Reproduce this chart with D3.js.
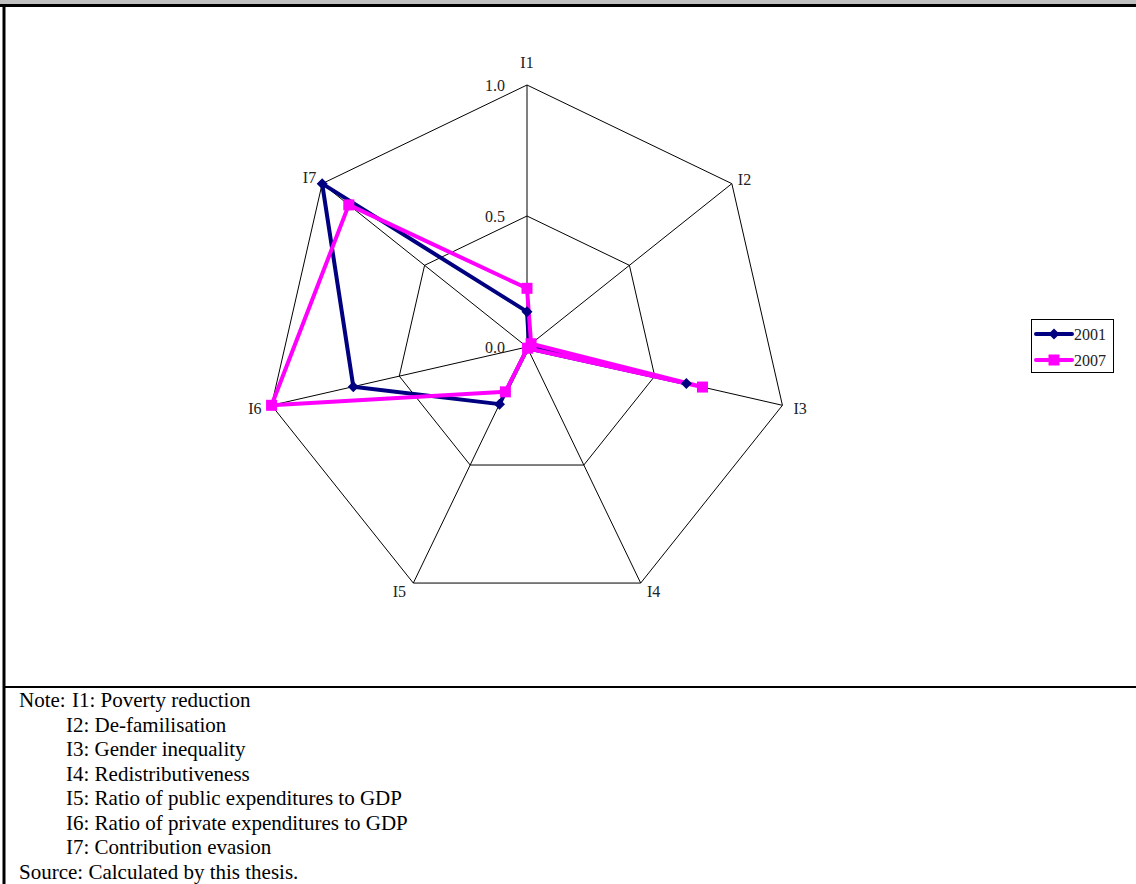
<!DOCTYPE html>
<html>
<head>
<meta charset="utf-8">
<script src="https://cdn.jsdelivr.net/npm/d3@7"></script>
<style>
  html, body { margin: 0; padding: 0; background: #fff; }
  svg { display: block; font-family: "Liberation Serif", "Times New Roman", serif; }
</style>
</head>
<body>
<svg id="chart" width="1136" height="884"></svg>
<script>
// Indicator axes, clockwise from the top
const axes = ["I1", "I2", "I3", "I4", "I5", "I6", "I7"];
const seriesNames = ["2001", "2007"];
const values2001 = [0.135, 0.01, 0.624, 0.005, 0.242, 0.68, 1.0];
const values2007 = [0.224, 0.02, 0.687, 0.005, 0.19, 1.0, 0.87];
const ringTicks = [0, 0.5, 1.0];
const tickLabels = ["0.0", "0.5", "1.0"];
const noteLines = [
  "I1: Poverty reduction",
  "I2: De-familisation",
  "I3: Gender inequality",
  "I4: Redistributiveness",
  "I5: Ratio of public expenditures to GDP",
  "I6: Ratio of private expenditures to GDP",
  "I7: Contribution evasion"
];
const sourceText = "Source: Calculated by this thesis.";

const svg = d3.select("#chart");
const W = 1136, H = 884;

// frame
svg.append("rect").attr("x", 0).attr("y", 0).attr("width", W).attr("height", 5).attr("fill", "#c0c0c0");
svg.append("line").attr("x1", 0).attr("x2", W).attr("y1", 5.5).attr("y2", 5.5).attr("stroke", "#000").attr("stroke-width", 3);
svg.append("line").attr("x1", 4).attr("x2", 4).attr("y1", 4).attr("y2", H).attr("stroke", "#000").attr("stroke-width", 3);
svg.append("line").attr("x1", 3).attr("x2", W).attr("y1", 687).attr("y2", 687).attr("stroke", "#000").attr("stroke-width", 2);

const cx = 527, cy = 347, R = 262;
const r = d3.scaleLinear().domain([0, 1]).range([0, R]);
const angle = d3.scalePoint().domain(axes).range([0, 2 * Math.PI * (axes.length - 1) / axes.length]);

function pt(axis, v) {
  const a = angle(axis);
  return [cx + r(v) * Math.sin(a), cy - r(v) * Math.cos(a)];
}

const g = svg.append("g");

// rings
ringTicks.filter(t => t > 0).forEach(t => {
  g.append("path")
    .attr("d", d3.line()(axes.map(a => pt(a, t))) + "Z")
    .attr("fill", "none").attr("stroke", "#000").attr("stroke-width", 1);
});
// spokes
axes.forEach(a => {
  const [x, y] = pt(a, 1);
  g.append("line").attr("x1", cx).attr("y1", cy).attr("x2", x).attr("y2", y)
    .attr("stroke", "#000").attr("stroke-width", 1);
});

// tick labels along the first axis
ringTicks.forEach((t, i) => {
  const [x, y] = pt(axes[0], t);
  g.append("text").attr("x", x - 22).attr("y", y).attr("dy", "0.35em")
    .attr("text-anchor", "end").attr("font-size", 16).attr("fill", "#222")
    .text(tickLabels[i]);
});

// axis labels
const labelOffset = {
  I1: [0, -23, "middle"], I2: [6, -4, "start"], I3: [11, 3, "start"],
  I4: [13, 8, "middle"], I5: [-14, 8, "middle"], I6: [-10, 3, "end"], I7: [-6, -6, "end"]
};
axes.forEach(a => {
  const [x, y] = pt(a, 1);
  const o = labelOffset[a];
  g.append("text").attr("x", x + o[0]).attr("y", y + o[1]).attr("dy", "0.35em")
    .attr("text-anchor", o[2]).attr("font-size", 16).attr("fill", "#222").text(a);
});

// series
const series = [
  { name: seriesNames[0], values: values2001, color: "#000080", marker: "diamond" },
  { name: seriesNames[1], values: values2007, color: "#ff00ff", marker: "square" }
];
const line = d3.line().curve(d3.curveLinearClosed);

function drawMarker(sel, s, x, y) {
  if (s.marker === "diamond") {
    sel.append("path").attr("d", `M${x},${y - 5.5}L${x + 5.5},${y}L${x},${y + 5.5}L${x - 5.5},${y}Z`)
      .attr("fill", s.color);
  } else {
    sel.append("rect").attr("x", x - 5.5).attr("y", y - 5.5).attr("width", 11).attr("height", 11)
      .attr("fill", s.color);
  }
}

series.forEach(s => {
  const pts = axes.map((a, i) => pt(a, s.values[i]));
  g.append("path").attr("d", line(pts)).attr("fill", "none")
    .attr("stroke", s.color).attr("stroke-width", 4).attr("stroke-linejoin", "round");
});
series.forEach(s => {
  axes.forEach((a, i) => {
    const [x, y] = pt(a, s.values[i]);
    drawMarker(g, s, x, y);
  });
});

// legend
const lg = svg.append("g");
lg.append("rect").attr("x", 1031.5).attr("y", 319.5).attr("width", 82).attr("height", 53)
  .attr("fill", "#fff").attr("stroke", "#000").attr("stroke-width", 1);
series.forEach((s, i) => {
  const y = 334 + i * 26;
  lg.append("line").attr("x1", 1036).attr("x2", 1072).attr("y1", y).attr("y2", y)
    .attr("stroke", s.color).attr("stroke-width", 4).attr("stroke-linecap", "round");
  drawMarker(lg, s, 1054, y);
  lg.append("text").attr("x", 1074).attr("y", y).attr("dy", "0.35em")
    .attr("font-size", 16).attr("fill", "#222").text(s.name);
});

// notes
const notes = svg.append("g").attr("font-size", 21).attr("fill", "#000");
notes.append("text").attr("x", 19).attr("y", 707).text("Note:");
noteLines.forEach((t, i) => {
  notes.append("text").attr("x", i === 0 ? 72 : 66).attr("y", 707 + i * 24.5).text(t);
});
notes.append("text").attr("x", 19).attr("y", 707 + 7 * 24.5).text(sourceText);
</script>
</body>
</html>
